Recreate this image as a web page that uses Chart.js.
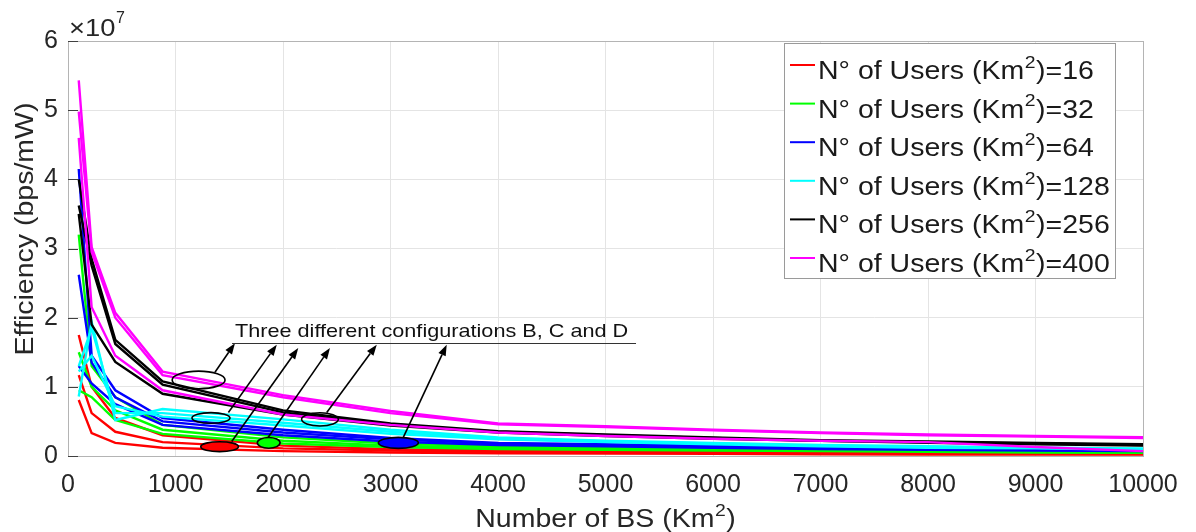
<!DOCTYPE html>
<html><head><meta charset="utf-8">
<script src="https://cdn.jsdelivr.net/npm/chart.js@4.4.1/dist/chart.umd.min.js"></script>
<style>html,body{margin:0;padding:0;background:#fff;}</style>
</head><body>
<canvas id="c" width="1196" height="532"></canvas>
<script>
const FONT = '"Liberation Sans", Arial, Helvetica, sans-serif';

// x values: Number of BS (Km^2)
const bsDensity = [100, 220, 440, 880, 2000, 3000, 4000, 5000, 6000, 7000, 8000, 9000, 10000];
const userGroups = [16, 32, 64, 128, 256, 400];
const configNames = ['B', 'C', 'D'];
const groupColors = ['#ff0000', '#00ff00', '#0000ff', '#00ffff', '#000000', '#ff00ff'];
const xTickLabels = ['0','1000','2000','3000','4000','5000','6000','7000','8000','9000','10000'];
const yTickLabels = ['0','1','2','3','4','5','6'];

// Efficiency values, in units of 10^7 bps/mW
const users16_B  = [1.75, 1.00, 0.55, 0.30, 0.15, 0.10, 0.08, 0.07, 0.06, 0.05, 0.045, 0.04, 0.035];
const users16_C  = [1.17, 0.62, 0.35, 0.20, 0.11, 0.08, 0.06, 0.05, 0.045, 0.04, 0.035, 0.03, 0.03];
const users16_D  = [0.81, 0.33, 0.19, 0.12, 0.07, 0.05, 0.04, 0.035, 0.03, 0.025, 0.02, 0.02, 0.02];

const users32_B  = [3.20, 1.30, 0.85, 0.45, 0.27, 0.18, 0.14, 0.12, 0.10, 0.09, 0.08, 0.07, 0.06];
const users32_C  = [1.50, 1.00, 0.66, 0.38, 0.22, 0.15, 0.12, 0.10, 0.09, 0.08, 0.07, 0.06, 0.05];
const users32_D  = [0.95, 0.85, 0.52, 0.32, 0.18, 0.13, 0.10, 0.09, 0.08, 0.07, 0.06, 0.05, 0.045];

const users64_B  = [4.15, 1.45, 0.95, 0.55, 0.38, 0.26, 0.19, 0.17, 0.15, 0.13, 0.12, 0.10, 0.09];
const users64_C  = [2.62, 1.35, 0.85, 0.50, 0.34, 0.24, 0.18, 0.15, 0.13, 0.11, 0.10, 0.09, 0.08];
const users64_D  = [1.30, 1.05, 0.75, 0.45, 0.30, 0.21, 0.16, 0.14, 0.12, 0.10, 0.09, 0.08, 0.07];

const users128_B = [0.86, 1.94, 0.52, 0.68, 0.53, 0.38, 0.27, 0.22, 0.19, 0.16, 0.14, 0.12, 0.11];
const users128_C = [1.30, 1.85, 0.62, 0.62, 0.48, 0.35, 0.25, 0.21, 0.18, 0.15, 0.13, 0.12, 0.10];
const users128_D = [1.22, 1.45, 0.72, 0.57, 0.44, 0.32, 0.24, 0.20, 0.17, 0.14, 0.12, 0.11, 0.09];

const users256_B = [4.00, 2.85, 1.68, 1.08, 0.66, 0.47, 0.36, 0.31, 0.27, 0.23, 0.21, 0.19, 0.17];
const users256_C = [3.62, 2.75, 1.62, 1.03, 0.63, 0.45, 0.35, 0.30, 0.26, 0.22, 0.20, 0.18, 0.16];
const users256_D = [3.50, 1.90, 1.36, 0.90, 0.60, 0.44, 0.34, 0.29, 0.25, 0.22, 0.19, 0.17, 0.15];

const users400_B = [5.43, 3.02, 2.07, 1.22, 0.88, 0.65, 0.47, 0.43, 0.38, 0.34, 0.31, 0.29, 0.27];
const users400_C = [4.98, 2.95, 2.00, 1.17, 0.85, 0.62, 0.46, 0.42, 0.37, 0.33, 0.30, 0.28, 0.26];
const users400_D = [4.60, 2.15, 1.45, 0.95, 0.60, 0.45, 0.34, 0.29, 0.25, 0.22, 0.20, 0.13, 0.07];

// Annotation: ellipses (data units), arrows, caption
const annotText = 'Three different configurations B, C and D';
const annotEllipses = [
  {x: 1215, y: 1.10, rx: 246, ry: 0.127, fill: null},
  {x: 1330, y: 0.55, rx: 177, ry: 0.077, fill: null},
  {x: 1410, y: 0.135, rx: 175, ry: 0.072, fill: '#ff0000'},
  {x: 1867, y: 0.19, rx: 106, ry: 0.077, fill: '#00ff00'},
  {x: 2344, y: 0.53, rx: 171, ry: 0.096, fill: null},
  {x: 3073, y: 0.19, rx: 186, ry: 0.08, fill: '#0000ff'}
];
const annotArrows = [
  [1367, 1.21, 1553, 1.63],
  [1492, 0.63, 1942, 1.61],
  [1523, 0.21, 2142, 1.56],
  [1863, 0.27, 2437, 1.56],
  [2407, 0.63, 2872, 1.61],
  [3119, 0.27, 3523, 1.61]
];
const annotUnderline = [1526, 5284, 1.63];
const annotTextPos = [1553, 1.725];

const seriesByGroup = [
  [users16_B, users16_C, users16_D],
  [users32_B, users32_C, users32_D],
  [users64_B, users64_C, users64_D],
  [users128_B, users128_C, users128_D],
  [users256_B, users256_C, users256_D],
  [users400_B, users400_C, users400_D]
];

const datasets = [];
seriesByGroup.forEach((arr, g) => arr.forEach((vals, k) => {
  datasets.push({
    label: 'N° of Users (Km²)=' + userGroups[g] + ' ' + configNames[k],
    data: bsDensity.map((x, i) => ({x: x, y: vals[i]})),
    borderColor: groupColors[g],
    backgroundColor: groupColors[g],
    borderWidth: 2.4,
    pointRadius: 0,
    fill: false,
    tension: 0,
    order: 5 - g
  });
}));

const SX = 1.14; // horizontal widening of the reference lettering

// draws [text, superscript, text] starting at x (or centred), widened by SX
function drawSupText(ctx, parts, x, y, size, supSize, align) {
  ctx.font = size + 'px ' + FONT;
  const w0 = ctx.measureText(parts[0]).width;
  const w2 = ctx.measureText(parts[2]).width;
  ctx.font = supSize + 'px ' + FONT;
  const w1 = ctx.measureText(parts[1]).width;
  const total = (w0 + w1 + w2) * SX;
  const sx = align === 'center' ? x - total / 2 : x;
  ctx.save();
  ctx.translate(sx, y);
  ctx.scale(SX, 1);
  ctx.textAlign = 'left';
  ctx.textBaseline = 'alphabetic';
  ctx.font = size + 'px ' + FONT;
  ctx.fillText(parts[0], 0, 0);
  ctx.font = supSize + 'px ' + FONT;
  ctx.fillText(parts[1], w0 + 0.5, -size * 0.45);
  ctx.font = size + 'px ' + FONT;
  ctx.fillText(parts[2], w0 + w1 + 1, 0);
  ctx.restore();
}

const overlay = {
  id: 'overlay',
  afterDatasetsDraw(chart) {
    const ctx = chart.ctx, xs = chart.scales.x, ys = chart.scales.y;
    ctx.save();
    annotEllipses.forEach(e => {
      const cx = xs.getPixelForValue(e.x), cy = ys.getPixelForValue(e.y);
      const rx = xs.getPixelForValue(e.x + e.rx) - cx;
      const ry = cy - ys.getPixelForValue(e.y + e.ry);
      ctx.beginPath();
      ctx.ellipse(cx, cy, rx, ry, 0, 0, Math.PI * 2);
      if (e.fill) { ctx.fillStyle = e.fill; ctx.fill(); }
      ctx.strokeStyle = '#000'; ctx.lineWidth = 1.6; ctx.stroke();
    });
    ctx.strokeStyle = '#000'; ctx.fillStyle = '#000'; ctx.lineWidth = 1.6;
    annotArrows.forEach(a => {
      const x1 = xs.getPixelForValue(a[0]), y1 = ys.getPixelForValue(a[1]);
      const x2 = xs.getPixelForValue(a[2]), y2 = ys.getPixelForValue(a[3]);
      const ang = Math.atan2(y2 - y1, x2 - x1);
      const L = 11, W = 4;
      const bx = x2 - L * Math.cos(ang), by = y2 - L * Math.sin(ang);
      ctx.beginPath(); ctx.moveTo(x1, y1); ctx.lineTo(bx, by); ctx.stroke();
      ctx.beginPath();
      ctx.moveTo(x2, y2);
      ctx.lineTo(bx + W * Math.sin(ang), by - W * Math.cos(ang));
      ctx.lineTo(bx - W * Math.sin(ang), by + W * Math.cos(ang));
      ctx.closePath(); ctx.fill();
    });
    const uy = Math.round(ys.getPixelForValue(annotUnderline[2])) + 0.5;
    ctx.lineWidth = 1;
    ctx.strokeStyle = '#333';
    ctx.beginPath();
    ctx.moveTo(xs.getPixelForValue(annotUnderline[0]), uy);
    ctx.lineTo(xs.getPixelForValue(annotUnderline[1]), uy);
    ctx.stroke();
    ctx.fillStyle = '#111';
    ctx.font = '19px ' + FONT;
    ctx.textAlign = 'left'; ctx.textBaseline = 'alphabetic';
    ctx.save();
    ctx.translate(xs.getPixelForValue(annotTextPos[0]), ys.getPixelForValue(annotTextPos[1]));
    ctx.scale(SX, 1);
    ctx.fillText(annotText, 0, 0);
    ctx.restore();
    ctx.restore();
  },
  afterDraw(chart) {
    const ctx = chart.ctx, a = chart.chartArea, ys = chart.scales.y;
    ctx.save();
    ctx.strokeStyle = '#b4b4b4'; ctx.lineWidth = 1;
    ctx.strokeRect(Math.round(a.left) + 0.5, Math.round(a.top) + 0.5, Math.round(a.right - a.left), Math.round(a.bottom - a.top));
    ctx.strokeStyle = '#404040';
    ys.ticks.forEach(t => {
      const py = Math.round(ys.getPixelForValue(t.value)) + 0.5;
      ctx.beginPath(); ctx.moveTo(a.left, py); ctx.lineTo(a.left + 10, py); ctx.stroke();
    });
    // legend
    const lx = 784, ly = 43, lw = 331, lh = 235;
    ctx.fillStyle = '#fff';
    ctx.fillRect(lx, ly, lw, lh);
    ctx.strokeStyle = '#9a9a9a'; ctx.lineWidth = 1;
    ctx.strokeRect(lx + 0.5, ly + 0.5, lw, lh);
    userGroups.forEach((u, i) => {
      const y = 65 + i * 38.6;
      ctx.strokeStyle = groupColors[i]; ctx.lineWidth = 2;
      ctx.beginPath(); ctx.moveTo(790, y); ctx.lineTo(815, y); ctx.stroke();
      ctx.fillStyle = '#1a1a1a';
      drawSupText(ctx, ['N° of Users (Km', '2', ')=' + u], 818, y + 14, 25, 17, 'left');
    });
    // axis titles
    ctx.fillStyle = '#262626';
    drawSupText(ctx, ['Number of BS (Km', '2', ')'], 605, 527, 25, 17, 'center');
    ctx.save();
    ctx.translate(33, 229);
    ctx.rotate(-Math.PI / 2);
    ctx.scale(SX, 1);
    ctx.font = '25px ' + FONT;
    ctx.textAlign = 'center'; ctx.textBaseline = 'alphabetic';
    ctx.fillText('Efficiency (bps/mW)', 0, 0);
    ctx.restore();
    // exponent
    ctx.save();
    ctx.translate(69, 36);
    ctx.scale(SX, 1);
    ctx.font = '24px ' + FONT; ctx.textAlign = 'left';
    ctx.fillText('\u00d710', 0, 0);
    ctx.restore();
    ctx.font = '16px ' + FONT;
    ctx.fillText('7', 116, 23);
    ctx.restore();
  }
};

new Chart(document.getElementById('c'), {
  type: 'line',
  data: {datasets: datasets},
  plugins: [overlay],
  options: {
    responsive: false,
    animation: false,
    devicePixelRatio: 1,
    layout: {padding: {top: 41, right: 53, left: 0, bottom: 0}},
    plugins: {legend: {display: false}, tooltip: {enabled: false}},
    elements: {point: {radius: 0}, line: {tension: 0}},
    scales: {
      x: {
        type: 'linear', min: 0, max: 10000,
        ticks: {stepSize: 1000, autoSkip: false, maxRotation: 0, color: '#262626', padding: 14,
          font: {family: FONT, size: 25},
          callback: (v, i) => xTickLabels[i]},
        grid: {color: '#e4e4e4', drawTicks: false},
        border: {display: false},
        afterFit(s) { s.height = 76; }
      },
      y: {
        min: 0, max: 6,
        ticks: {stepSize: 1, color: '#262626', padding: 10,
          font: {family: FONT, size: 25},
          callback: (v, i) => yTickLabels[i]},
        grid: {color: '#e4e4e4', drawTicks: false},
        border: {display: false},
        afterFit(s) { s.width = 68; }
      }
    }
  }
});
</script>
</body></html>
